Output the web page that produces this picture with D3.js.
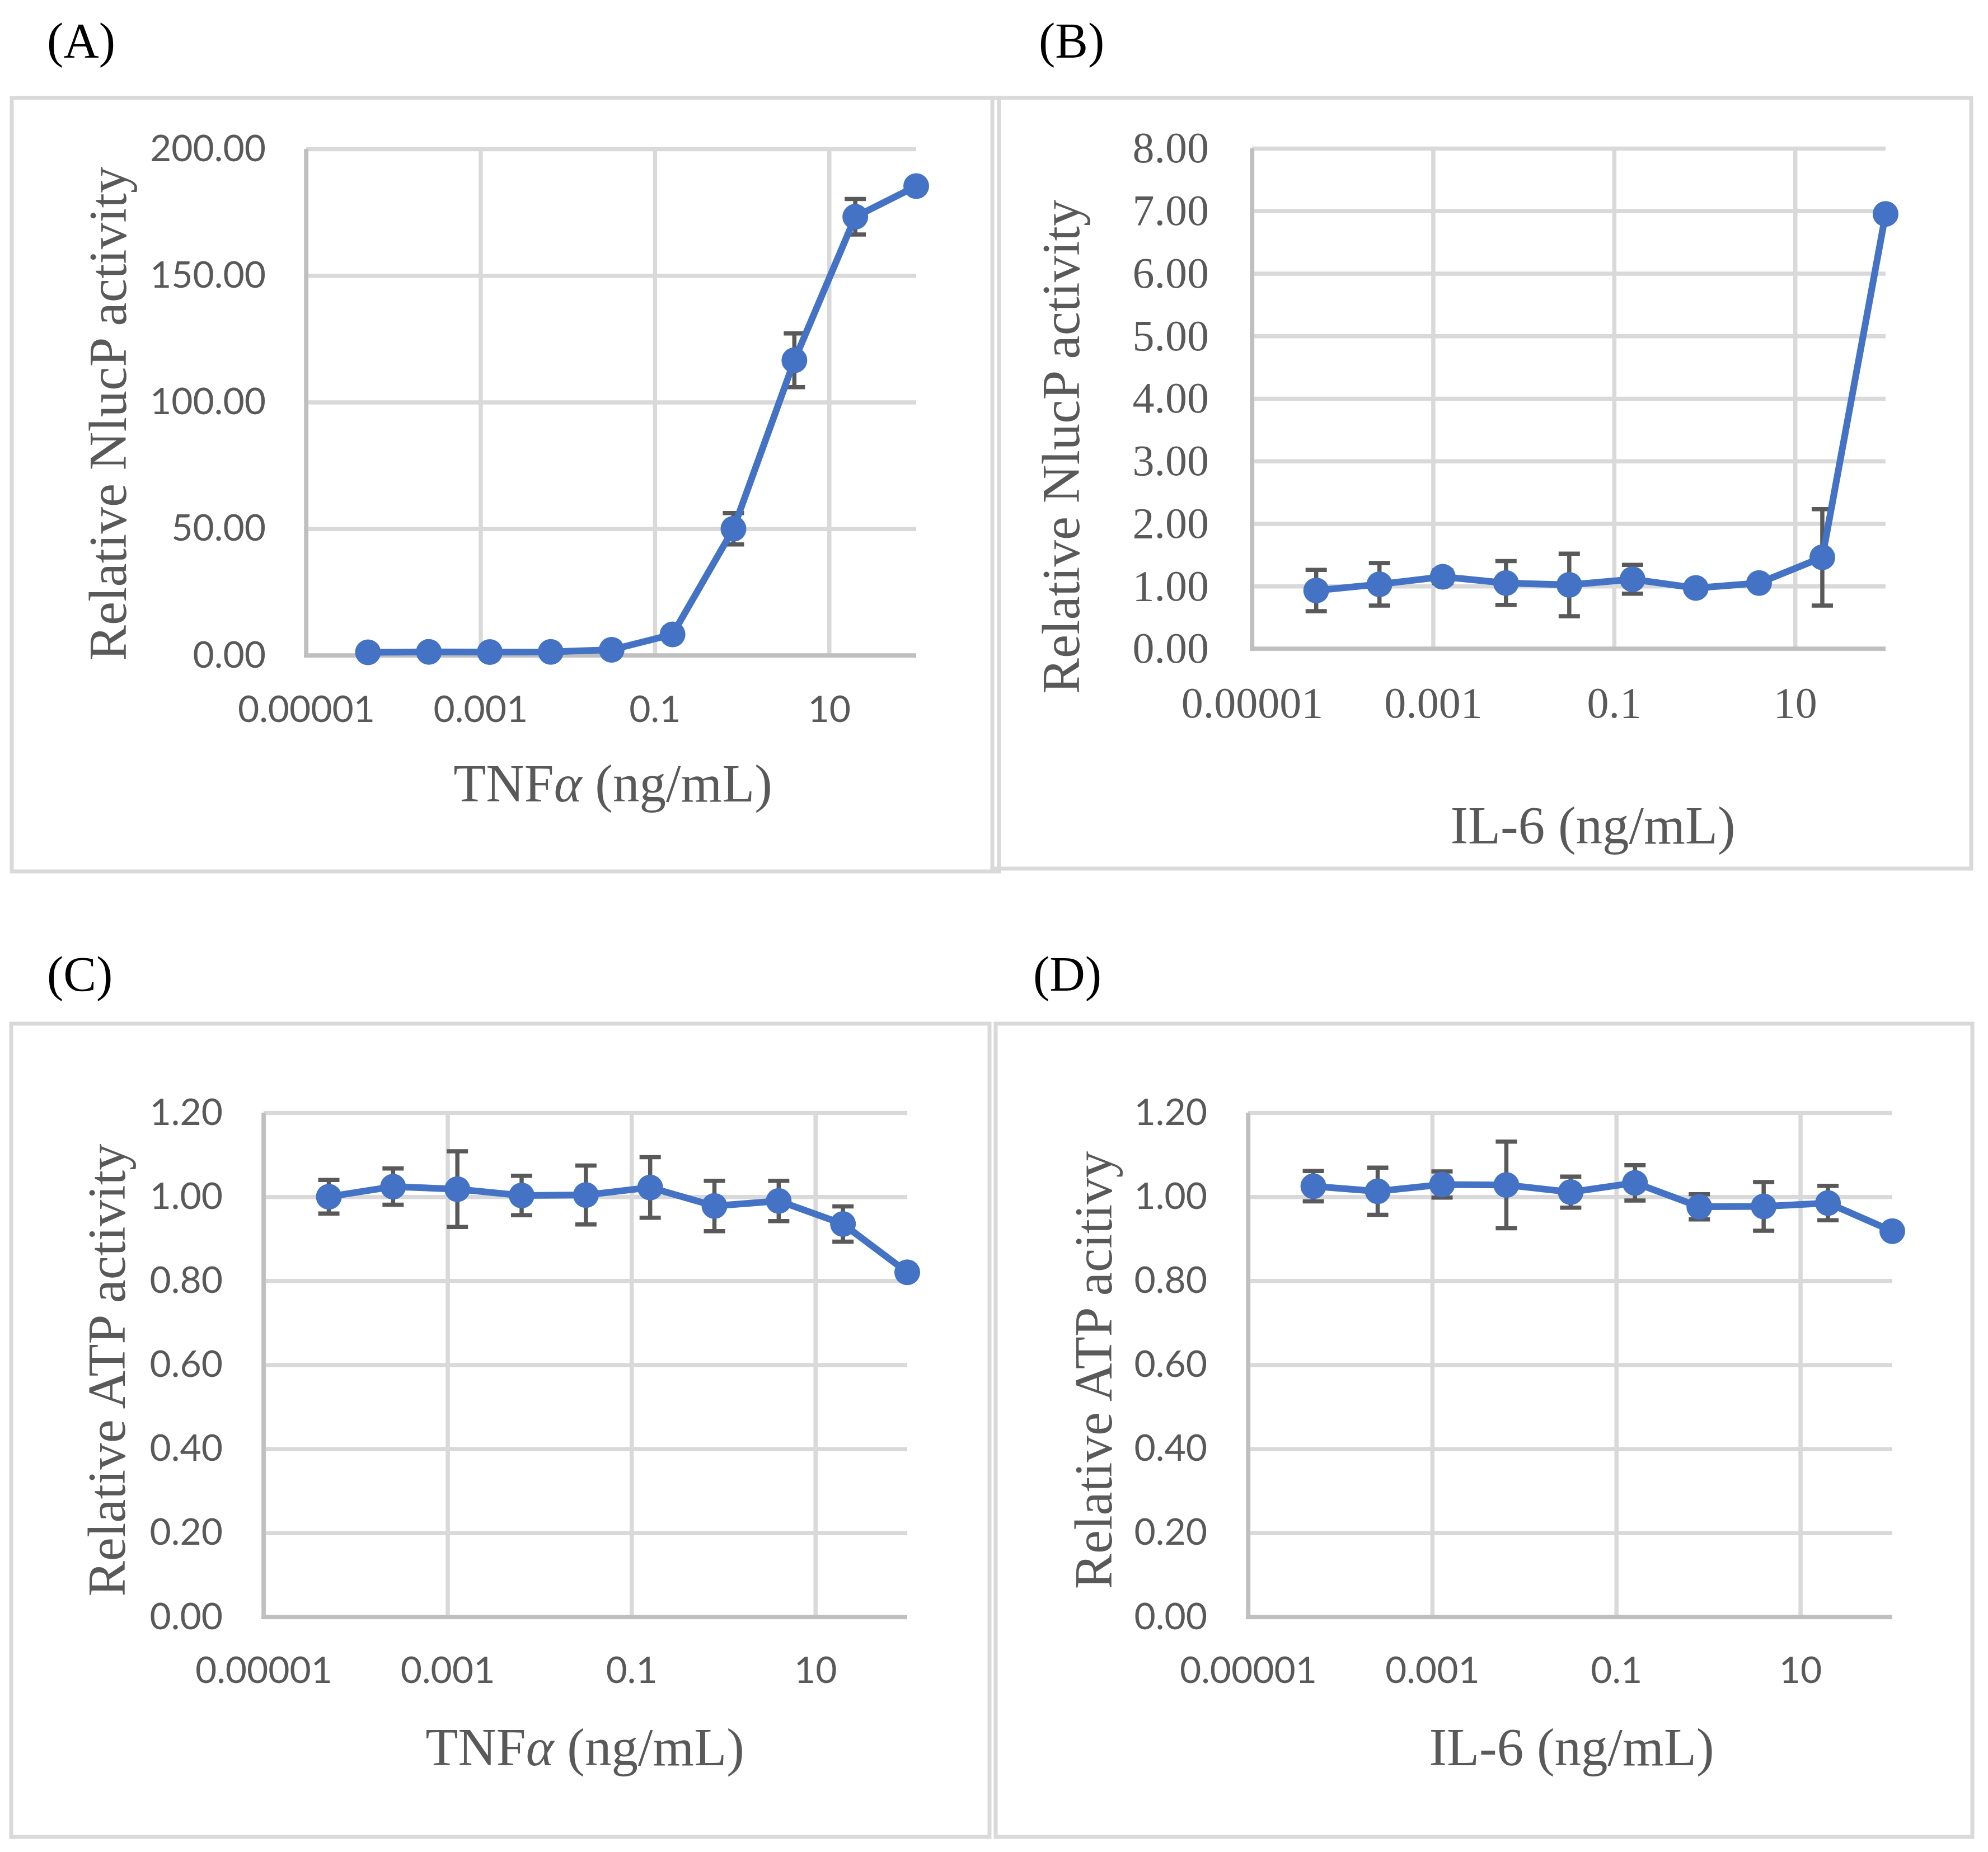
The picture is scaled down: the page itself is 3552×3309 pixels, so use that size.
<!DOCTYPE html>
<html>
<head>
<meta charset="utf-8">
<script src="https://cdn.jsdelivr.net/npm/d3@7"></script>
<style>
  html, body { margin: 0; padding: 0; background: #fff; }
</style>
</head>
<body>
<div id="chart"></div>
<script>
// concentrations (ng/mL), 5-fold dilutions, same for every panel
const concentrations = [0.0000512, 0.000256, 0.00128, 0.0064, 0.032, 0.16, 0.8, 4, 20, 100];

// (A) TNFa -> NlucP
const tnfNluc    = [1.2, 1.4, 1.3, 1.4, 2.2, 8.3, 50.0, 116.5, 173.2, 185.3];
const tnfNlucErr = [0.3, 0.3, 0.3, 0.3, 0.4, 0.8, 6.2, 10.6, 7.0, 0.5];

// (B) IL-6 -> NlucP
const il6Nluc    = [0.93, 1.03, 1.15, 1.05, 1.02, 1.11, 0.97, 1.05, 1.46, 6.95];
const il6NlucErr = [0.33, 0.34, 0.10, 0.35, 0.50, 0.23, 0.08, 0.06, 0.77, 0.05];

// (C) TNFa -> ATP
const tnfAtp    = [1.000, 1.024, 1.018, 1.003, 1.004, 1.022, 0.978, 0.990, 0.935, 0.820];
const tnfAtpErr = [0.040, 0.043, 0.090, 0.047, 0.070, 0.072, 0.060, 0.048, 0.042, 0.004];

// (D) IL-6 -> ATP
const il6Atp    = [1.025, 1.013, 1.029, 1.028, 1.011, 1.033, 0.976, 0.977, 0.985, 0.918];
const il6AtpErr = [0.036, 0.056, 0.031, 0.103, 0.037, 0.042, 0.030, 0.058, 0.041, 0.004];

// ticks
const xTicks = [0.00001, 0.001, 0.1, 10];
const xTickLabels = ["0.00001", "0.001", "0.1", "10"];
const yTicksNlucA = [0, 50, 100, 150, 200];
const yTicksNlucB = [0, 1, 2, 3, 4, 5, 6, 7, 8];
const yTicksAtp = [0, 0.2, 0.4, 0.6, 0.8, 1.0, 1.2];

const W = 3552, H = 3309;
const blue = "#4472C4", textGrey = "#595959", gridGrey = "#d9d9d9", axisGrey = "#bfbfbf";
const sans = "Lato, 'Open Sans', sans-serif";
const serif = "'Liberation Serif', 'DejaVu Serif', serif";

const panels = [
  { label: "(A)", values: tnfNluc, errors: tnfNlucErr, yTicks: yTicksNlucA,
    yTitle: "Relative NlucP activity", xName: "TNF", alpha: true, tickFont: sans, tickSize: 66,
    plot: {l: 547, r: 1637, t: 266, b: 1171}, box: [21, 175, 1785, 1557],
    lab: [84, 102], yt: [225, 739], xt: [1095, 1432], yPad: 72, xPad: 72 },
  { label: "(B)", values: il6Nluc, errors: il6NlucErr, yTicks: yTicksNlucB,
    yTitle: "Relative NlucP activity", xName: "IL-6", alpha: false, tickFont: serif, tickSize: 78,
    plot: {l: 2237, r: 3369, t: 265, b: 1159}, box: [1773, 175, 3522, 1552],
    lab: [1856, 102], yt: [1928, 798], xt: [2846, 1507], yPad: 77, xPad: 68 },
  { label: "(C)", values: tnfAtp, errors: tnfAtpErr, yTicks: yTicksAtp,
    yTitle: "Relative ATP activity", xName: "TNF", alpha: true, tickFont: sans, tickSize: 66,
    plot: {l: 471, r: 1621, t: 1988, b: 2889}, box: [20, 1829, 1768, 3282],
    lab: [84, 1770], yt: [223, 2448], xt: [1045, 3154], yPad: 73, xPad: 71 },
  { label: "(D)", values: il6Atp, errors: il6AtpErr, yTicks: yTicksAtp,
    yTitle: "Relative ATP acitivy", xName: "IL-6", alpha: false, tickFont: sans, tickSize: 66,
    plot: {l: 2230, r: 3381, t: 1988, b: 2889}, box: [1779, 1829, 3524, 3282],
    lab: [1846, 1770], yt: [1986, 2448], xt: [2808, 3154], yPad: 73, xPad: 71 }
];

const svg = d3.select("#chart")
  .append("svg")
  .attr("width", W)
  .attr("height", H)
  .attr("viewBox", `0 0 ${W} ${H}`);

svg.append("rect").attr("width", W).attr("height", H).attr("fill", "#fff");

panels.forEach(p => {
  const g = svg.append("g");
  const pw = p.plot.r - p.plot.l, ph = p.plot.b - p.plot.t;

  // outer chart frame
  g.append("rect")
    .attr("x", p.box[0]).attr("y", p.box[1])
    .attr("width", p.box[2] - p.box[0]).attr("height", p.box[3] - p.box[1])
    .attr("fill", "none").attr("stroke", gridGrey).attr("stroke-width", 7);

  // panel letter
  g.append("text")
    .attr("x", p.lab[0]).attr("y", p.lab[1])
    .style("font-family", serif).style("font-size", "88px").attr("fill", "#000")
    .text(p.label);

  const x = d3.scaleLog().domain([1e-5, 100]).range([p.plot.l, p.plot.r]);
  const y = d3.scaleLinear().domain([0, d3.max(p.yTicks)]).range([p.plot.b, p.plot.t]);

  // y axis + horizontal gridlines
  const yAxis = g.append("g")
    .attr("transform", `translate(${p.plot.l},0)`)
    .call(d3.axisLeft(y).tickValues(p.yTicks).tickSize(-pw).tickPadding(p.yPad).tickFormat(d3.format(".2f")));
  yAxis.select(".domain").remove();
  yAxis.selectAll("line").attr("stroke", gridGrey).attr("stroke-width", 7.5);
  yAxis.selectAll("text")
    .style("font-family", p.tickFont).style("font-size", p.tickSize + "px").attr("fill", textGrey);

  // x axis + vertical gridlines
  const xAxis = g.append("g")
    .attr("transform", `translate(0,${p.plot.b})`)
    .call(d3.axisBottom(x).tickValues(xTicks).tickSize(-ph).tickPadding(p.xPad)
      .tickFormat((d, i) => xTickLabels[i]));
  xAxis.select(".domain").remove();
  xAxis.selectAll("line").attr("stroke", gridGrey).attr("stroke-width", 7.5);
  xAxis.selectAll("text")
    .style("font-family", p.tickFont).style("font-size", p.tickSize + "px").attr("fill", textGrey);

  // axis lines
  g.append("line")
    .attr("x1", p.plot.l).attr("x2", p.plot.l).attr("y1", p.plot.t).attr("y2", p.plot.b + 4)
    .attr("stroke", axisGrey).attr("stroke-width", 7.5);
  g.append("line")
    .attr("x1", p.plot.l - 4).attr("x2", p.plot.r).attr("y1", p.plot.b).attr("y2", p.plot.b)
    .attr("stroke", axisGrey).attr("stroke-width", 7.5);

  const data = concentrations.map((c, i) => ({c: c, v: p.values[i], e: p.errors[i]}));

  // error bars
  const eb = g.append("g").attr("stroke", "#595959").attr("stroke-width", 7.5);
  data.forEach(d => {
    const cx = x(d.c);
    eb.append("line").attr("x1", cx).attr("x2", cx).attr("y1", y(d.v + d.e)).attr("y2", y(d.v - d.e));
    eb.append("line").attr("x1", cx - 19).attr("x2", cx + 19).attr("y1", y(d.v + d.e)).attr("y2", y(d.v + d.e));
    eb.append("line").attr("x1", cx - 19).attr("x2", cx + 19).attr("y1", y(d.v - d.e)).attr("y2", y(d.v - d.e));
  });

  // series line
  g.append("path")
    .datum(data)
    .attr("fill", "none")
    .attr("stroke", blue)
    .attr("stroke-width", 12)
    .attr("stroke-linejoin", "round")
    .attr("d", d3.line().x(d => x(d.c)).y(d => y(d.v)));

  // markers
  g.append("g")
    .selectAll("circle")
    .data(data)
    .enter().append("circle")
      .attr("cx", d => x(d.c))
      .attr("cy", d => y(d.v))
      .attr("r", 23)
      .attr("fill", blue);

  // axis titles
  g.append("text")
    .attr("transform", `translate(${p.yt[0]},${p.yt[1]}) rotate(-90)`)
    .attr("text-anchor", "middle")
    .style("font-family", serif).style("font-size", "95px").attr("fill", textGrey)
    .text(p.yTitle);

  const xt = g.append("text")
    .attr("x", p.xt[0]).attr("y", p.xt[1])
    .attr("text-anchor", "middle")
    .style("font-family", serif).style("font-size", "95px").attr("fill", textGrey);
  xt.append("tspan").text(p.xName);
  if (p.alpha) xt.append("tspan").style("font-style", "italic").text("\u03B1");
  xt.append("tspan").text(" (ng/mL)");
});
</script>
</body>
</html>
